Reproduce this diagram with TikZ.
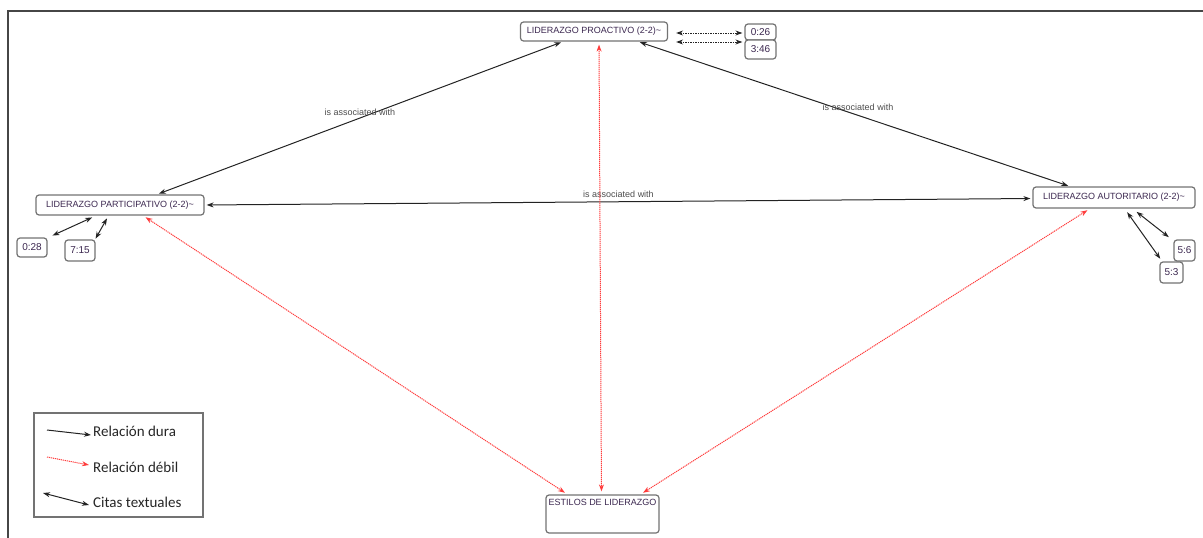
\documentclass[tikz,border=0pt]{standalone}
\usepackage{fontspec}
\setmainfont{Liberation Sans}
\newfontfamily\legfont{Carlito}
\usetikzlibrary{arrows.meta}
\definecolor{txt}{RGB}{60,40,80}
\definecolor{bord}{RGB}{115,115,115}
\definecolor{lnk}{RGB}{35,35,35}
\definecolor{weak}{RGB}{255,60,60}
\definecolor{frm}{RGB}{70,70,70}
\begin{document}
\begin{tikzpicture}[x=1pt,y=-1pt,
  box/.style={draw=bord,line width=1.2pt,rounded corners=3pt,fill=white,
    font=\fontsize{9}{10}\selectfont,text=txt,inner sep=0pt},
  cbox/.style={box,font=\fontsize{10}{11}\selectfont},
  tip/.tip={Stealth[length=7pt,width=5pt]},
  hard/.style={draw=lnk,line width=1pt,tip-tip,shorten <=2pt,shorten >=2pt},
  weakl/.style={draw=weak,line width=1pt,dash pattern=on 1.2pt off 0.8pt,tip-tip,shorten <=3pt,shorten >=3pt},
  cita/.style={draw=lnk,line width=1pt,tip-tip,shorten <=2pt,shorten >=2pt},
  citad/.style={cita,dash pattern=on 1.5pt off 1pt},
  lbl/.style={font=\fontsize{9}{10}\selectfont,text=black!70,inner sep=1pt},
  leg/.style={font=\legfont\fontsize{15}{17}\selectfont,text=black!85,anchor=west,inner sep=0pt}
]
\useasboundingbox (0,0) rectangle (1203,538);
\draw[frm,line width=2pt] (8,538) -- (8,11) -- (1203,11);

% main nodes
\node[box,minimum width=147pt,minimum height=19pt] (pro) at (594,31.5) {LIDERAZGO PROACTIVO (2-2)\textasciitilde};
\node[box,minimum width=168pt,minimum height=20pt] (par) at (120,205) {LIDERAZGO PARTICIPATIVO (2-2)\textasciitilde};
\node[box,minimum width=162pt,minimum height=21pt] (aut) at (1114,197.5) {LIDERAZGO AUTORITARIO (2-2)\textasciitilde};
\node[box,minimum width=113pt,minimum height=38pt,
  label={[anchor=north,yshift=-5pt,font=\fontsize{9}{10}\selectfont,text=txt,inner sep=0pt]north:ESTILOS DE LIDERAZGO}] (est) at (602.5,514) {};

% citation nodes
\node[cbox,minimum width=31pt,minimum height=16pt] (c026) at (760.5,32) {0:26};
\node[cbox,minimum width=31pt,minimum height=19pt] (c346) at (760.5,49.5) {3:46};
\node[cbox,minimum width=30pt,minimum height=19pt] (c028) at (32,247.5) {0:28};
\node[cbox,minimum width=30pt,minimum height=21pt] (c715) at (80,250.5) {7:15};
\node[cbox,minimum width=21pt,minimum height=21pt] (c56) at (1184.5,250.5) {5:6};
\node[cbox,minimum width=23pt,minimum height=21pt] (c53) at (1171.5,272.5) {5:3};

% hard relations
\draw[hard] ([xshift=-31pt]pro.south) -- ([xshift=37pt]par.north)
  node[lbl,pos=0.5,yshift=6pt] {is associated with};
\draw[hard] ([xshift=44pt]pro.south) -- ([xshift=-44pt]aut.north)
  node[lbl,pos=0.5,xshift=4pt,yshift=7pt] {is associated with};
\draw[hard] (par.east) -- ([yshift=-1pt]aut.west)
  node[lbl,pos=0.5,yshift=7pt] {is associated with};

% weak relations
\draw[weakl] ([xshift=5pt]pro.south) -- ([xshift=-1pt]est.north);
\draw[weakl] ([xshift=23pt]par.south) -- ([xshift=-35pt]est.north);
\draw[weakl] ([xshift=-24pt]aut.south) -- ([xshift=38pt]est.north);

% citations
\draw[citad] ([xshift=6pt,yshift=-1.5pt]pro.east) -- ([yshift=-1pt]c026.west);
\draw[citad] ([xshift=6pt,yshift=-10.5pt]pro.east) -- ([yshift=7.5pt]c346.west);
\draw[cita] ([xshift=-26pt,yshift=-1pt]par.south) -- ([xshift=3pt,yshift=1pt]c028.north east);
\draw[cita] ([xshift=-12pt,yshift=-1pt]par.south) -- ([xshift=-1pt,yshift=-1pt]c715.north east);
\draw[cita] ([xshift=12pt,yshift=-2pt]aut.south) -- ([xshift=2pt,yshift=1pt]c53.north west);
\draw[cita] ([xshift=21pt,yshift=-2pt]aut.south) -- ([xshift=-3pt,yshift=1pt]c56.north west);

% legend
\draw[bord,line width=1.2pt] (34,413) rectangle (203,517);
\coordinate (l1a) at (47,430); \coordinate (l1b) at (91,435);
\coordinate (l2a) at (47,457); \coordinate (l2b) at (89,465);
\coordinate (l3a) at (43,493); \coordinate (l3b) at (89,505);
\draw[draw=lnk,line width=1pt,-tip] (l1a) -- (l1b);
\draw[draw=weak,line width=1pt,dash pattern=on 1.2pt off 0.8pt,-tip] (l2a) -- (l2b);
\draw[draw=lnk,line width=1pt,tip-tip] (l3a) -- (l3b);
\node[leg] (t1) at (93,431) {Relación dura};
\node[leg] (t2) at (93,467) {Relación débil};
\node[leg] (t3) at (93,502) {Citas textuales};
\end{tikzpicture}
\end{document}
